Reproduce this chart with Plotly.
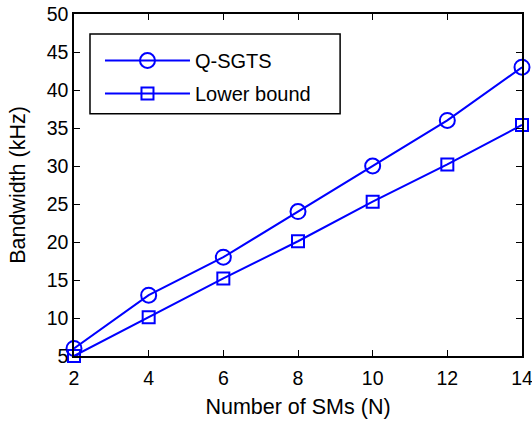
import plotly.graph_objects as go

sms = [2, 4, 6, 8, 10, 12, 14]
q_sgts = [6, 13, 18, 24, 30, 36, 43]
lower_bound = [5, 10.1, 15.2, 20.1, 25.3, 30.2, 35.4]
x_ticks = [2, 4, 6, 8, 10, 12, 14]
y_ticks = [5, 10, 15, 20, 25, 30, 35, 40, 45, 50]

FONT = "Liberation Sans, Arial, Helvetica"
blue = "#0000FF"
fig = go.Figure()
fig.add_trace(go.Scatter(x=sms, y=q_sgts, name="Q-SGTS", mode="lines+markers",
                         legendgroup="a",
                         line=dict(color=blue, width=2),
                         marker=dict(symbol="circle-open", size=15, color=blue, line=dict(width=2)),
                         cliponaxis=False))
fig.add_trace(go.Scatter(x=sms, y=lower_bound, name="Lower bound", mode="lines+markers",
                         legendgroup="b",
                         line=dict(color=blue, width=2),
                         marker=dict(symbol="square-open", size=12, color=blue, line=dict(width=2)),
                         cliponaxis=False))

axis_common = dict(showgrid=False, zeroline=False, showline=True, linecolor="black", linewidth=1.5,
                   mirror="ticks", ticks="inside", ticklen=6, tickcolor="black", automargin=False,
                   ticklabeloverflow="allow",
                   tickfont=dict(family=FONT, size=19.5, color="black"))
fig.update_xaxes(range=[2, 14], tickvals=x_ticks, ticklabelstandoff=4,
                 title=dict(text="Number of SMs (N)", font=dict(family=FONT, size=21.5, color="black"), standoff=11),
                 **axis_common)
fig.update_yaxes(range=[5, 50], tickvals=y_ticks,
                 title=dict(text="Bandwidth (kHz)", font=dict(family=FONT, size=21.5, color="black"), standoff=15),
                 **axis_common)

# legend frame (MATLAB-style box, wider than plotly's auto-sized legend)
fig.add_shape(type="rect", xref="paper", yref="paper", x0=0.0357, x1=0.594, y0=0.708, y1=0.9415,
              line=dict(color="black", width=1.5), fillcolor="white", layer="above")

fig.update_layout(width=532, height=423, margin=dict(l=74, r=10, t=14, b=67),
                  plot_bgcolor="white", paper_bgcolor="white",
                  legend=dict(x=0.058, y=0.921, xanchor="left", yanchor="top",
                              borderwidth=0, bgcolor="rgba(0,0,0,0)",
                              itemwidth=85, tracegroupgap=4,
                              font=dict(family=FONT, size=20, color="black")),
                  showlegend=True)
fig.write_html("out.html", config={"displayModeBar": False},
               post_script="document.body.style.margin='0';")
